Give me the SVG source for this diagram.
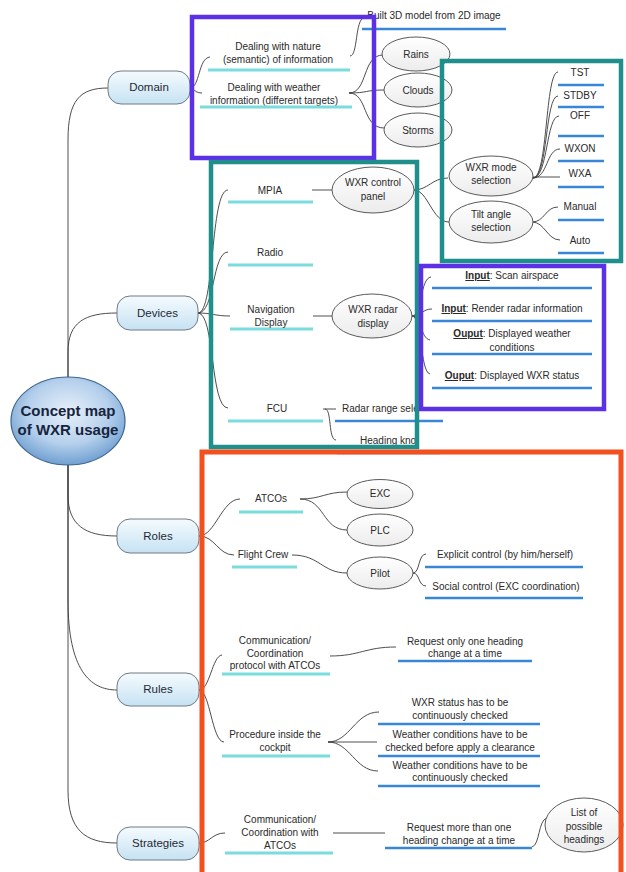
<svg xmlns="http://www.w3.org/2000/svg" width="626" height="872" viewBox="0 0 626 872">
<style>
.t{font-family:"Liberation Sans",Arial,sans-serif;font-size:10px;fill:#2a2a2a;text-anchor:middle}
.tl{font-family:"Liberation Sans",Arial,sans-serif;font-size:10px;fill:#2a2a2a;text-anchor:start}
.mt{font-family:"Liberation Sans",Arial,sans-serif;font-size:11.5px;fill:#1f2933;text-anchor:middle}
.ct{font-family:"Liberation Sans",Arial,sans-serif;font-size:15px;font-weight:bold;fill:#17243d;text-anchor:middle}
.b{font-weight:bold;text-decoration:underline}
.uc{stroke:#7adcdc;stroke-width:3;fill:none}
.ub{stroke:#3a86d6;stroke-width:2.5;fill:none}
.conn{fill:none;stroke:#3a3a3a;stroke-width:0.9}
.ell{fill:url(#eg);stroke:#5a5a5a;stroke-width:1}
.mn{fill:url(#mg);stroke:#6e7a84;stroke-width:1}
.bp{fill:none;stroke:#5b30e6;stroke-width:4.5}
.bt{fill:none;stroke:#1f8f8c;stroke-width:4.5}
.bo{fill:none;stroke:#f2501f;stroke-width:5}
</style>
<defs>
<linearGradient id="mg" x1="0" y1="0" x2="0" y2="1">
<stop offset="0" stop-color="#f5fbfe"/><stop offset="1" stop-color="#c6e2f3"/>
</linearGradient>
<linearGradient id="eg" x1="0" y1="0" x2="0" y2="1">
<stop offset="0" stop-color="#ffffff"/><stop offset="1" stop-color="#ececec"/>
</linearGradient>
<radialGradient id="cg" cx="0.5" cy="0.4" r="0.6">
<stop offset="0" stop-color="#e8f1fa"/><stop offset="0.6" stop-color="#b5d0ec"/><stop offset="1" stop-color="#6f9fd1"/>
</radialGradient>
</defs>
<rect width="626" height="872" fill="#ffffff"/>

<g id="connectors">
<path class="conn" d="M68,377 L68,140 C68,100 80,88 108,88"/>
<path class="conn" d="M68,377 L68,352 C68,322 85,313 117,313"/>
<path class="conn" d="M68,465 L68,495 C68,525 85,536 117,536"/>
<path class="conn" d="M68,465 L68,600 C68,670 90,690 117,690"/>
<path class="conn" d="M68,465 L68,790 C68,830 85,843 117,843"/>
<path class="conn" d="M190,88 C200,88 198,58 210,57"/>
<path class="conn" d="M190,88 C195,90 196,93 202,93"/>
<path class="conn" d="M350,56 C358,56 355,19 364,18"/>
<path class="conn" d="M349,93 C368,93 362,55 383,55"/>
<path class="conn" d="M349,93 C368,93 365,90 384,90"/>
<path class="conn" d="M349,93 C368,93 362,128 384,128"/>
<path class="conn" d="M198,313 C215,313 210,190 228,190"/>
<path class="conn" d="M198,313 C215,313 212,252 228,252"/>
<path class="conn" d="M198,313 C212,313 215,316 230,316"/>
<path class="conn" d="M198,313 C215,313 210,408 228,408"/>
<path class="conn" d="M312,190 L332,190"/>
<path class="conn" d="M414,190 C428,190 432,178 448,178"/>
<path class="conn" d="M414,190 C428,190 432,222 449,222"/>
<path class="conn" d="M533,178 C548,178 545,72 558,72"/>
<path class="conn" d="M533,178 C548,178 545,96 558,96"/>
<path class="conn" d="M533,178 C548,178 546,116 559,116"/>
<path class="conn" d="M533,178 C548,178 546,149 560,149"/>
<path class="conn" d="M533,177 L560,177"/>
<path class="conn" d="M532,222 C545,222 545,207 558,207"/>
<path class="conn" d="M532,222 C545,222 547,240 560,240"/>
<path class="conn" d="M313,316 L332,316"/>
<path class="conn" d="M412,316 C422,316 420,278 431,277"/>
<path class="conn" d="M412,316 C422,316 422,309 432,309"/>
<path class="conn" d="M412,316 C422,316 420,338 430,340"/>
<path class="conn" d="M412,316 C422,316 420,372 430,374"/>
<path class="conn" d="M323,409 L336,409"/>
<path class="conn" d="M325,409 C332,409 328,440 336,440"/>
<path class="conn" d="M199,536 C215,536 222,499 240,499"/>
<path class="conn" d="M199,536 C215,536 218,555 234,555"/>
<path class="conn" d="M300,499 C322,499 325,492 347,492"/>
<path class="conn" d="M300,499 C325,499 322,530 347,530"/>
<path class="conn" d="M292,555 C320,555 322,573 347,573"/>
<path class="conn" d="M413,573 C420,573 418,554 426,554"/>
<path class="conn" d="M413,573 C420,573 418,586 426,586"/>
<path class="conn" d="M199,690 C210,690 212,656 222,655"/>
<path class="conn" d="M199,690 C210,690 212,742 224,742"/>
<path class="conn" d="M330,656 C360,656 365,647 396,647"/>
<path class="conn" d="M328,742 C350,742 355,712 379,712"/>
<path class="conn" d="M328,742 L377,742"/>
<path class="conn" d="M328,742 C350,742 355,771 378,771"/>
<path class="conn" d="M199,843 C210,843 212,833 225,833"/>
<path class="conn" d="M333,833 L385,833"/>
<path class="conn" d="M532,847 C540,845 538,820 547,818"/>
</g>

<g id="center">
<ellipse cx="68" cy="421" rx="57" ry="44" fill="url(#cg)" stroke="#3f6590" stroke-width="1.2"/>
<text class="ct" x="68" y="416">Concept map</text>
<text class="ct" x="68" y="435">of WXR usage</text>
</g>

<g id="domain"><rect class="mn" x="108" y="71" width="82" height="33" rx="13"/><text class="mt" x="149" y="91">Domain</text></g>
<g id="devices"><rect class="mn" x="117" y="296" width="81" height="34" rx="13"/><text class="mt" x="157.5" y="317">Devices</text></g>
<g id="roles"><rect class="mn" x="117" y="519" width="82" height="34" rx="13"/><text class="mt" x="158" y="540">Roles</text></g>
<g id="rules"><rect class="mn" x="117" y="673" width="82" height="33" rx="13"/><text class="mt" x="158" y="693">Rules</text></g>
<g id="strategies"><rect class="mn" x="117" y="827" width="82" height="33" rx="13"/><text class="mt" x="158" y="847">Strategies</text></g>

<g id="nature"><text class="t" x="278" y="50">Dealing with nature</text><text class="t" x="278" y="63">(semantic) of information</text><line class="uc" x1="208" y1="70" x2="350" y2="70"/></g>
<g id="weather"><text class="t" x="274" y="91">Dealing with weather</text><text class="t" x="274" y="104">information (different targets)</text><line class="uc" x1="200" y1="107" x2="352" y2="107"/></g>
<g id="built3d"><text class="t" x="434" y="19">Built 3D model from 2D image</text><line class="ub" x1="362" y1="29" x2="506" y2="29"/></g>
<g id="rains"><ellipse class="ell" cx="416" cy="54" rx="34" ry="17"/><text class="t" x="416" y="58">Rains</text></g>
<g id="clouds"><ellipse class="ell" cx="418" cy="90" rx="34" ry="17"/><text class="t" x="418" y="94">Clouds</text></g>
<g id="storms"><ellipse class="ell" cx="418" cy="130" rx="34" ry="17"/><text class="t" x="418" y="134">Storms</text></g>

<g id="mpia"><text class="t" x="270" y="194">MPIA</text><line class="uc" x1="228" y1="202" x2="313" y2="202"/></g>
<g id="wxrpanel"><ellipse class="ell" cx="373" cy="190" rx="41" ry="23"/><text class="t" x="373" y="186">WXR control</text><text class="t" x="373" y="200">panel</text></g>
<g id="wxrmode"><ellipse class="ell" cx="491" cy="176" rx="42" ry="20"/><text class="t" x="491" y="171">WXR mode</text><text class="t" x="491" y="184">selection</text></g>
<g id="tilt"><ellipse class="ell" cx="491" cy="222" rx="42" ry="21"/><text class="t" x="491" y="218">Tilt angle</text><text class="t" x="491" y="231">selection</text></g>
<g id="tst"><text class="t" x="580" y="76">TST</text><line class="ub" x1="558" y1="85" x2="604" y2="85"/></g>
<g id="stdby"><text class="t" x="580" y="99">STDBY</text><line class="ub" x1="558" y1="107" x2="604" y2="107"/></g>
<g id="off"><text class="t" x="580" y="119">OFF</text><line class="ub" x1="558" y1="136" x2="604" y2="136"/></g>
<g id="wxon"><text class="t" x="580" y="152">WXON</text><line class="ub" x1="558" y1="161" x2="604" y2="161"/></g>
<g id="wxa"><text class="t" x="580" y="177">WXA</text><line class="ub" x1="558" y1="187" x2="604" y2="187"/></g>
<g id="manual"><text class="t" x="580" y="210">Manual</text><line class="ub" x1="558" y1="220" x2="604" y2="220"/></g>
<g id="auto"><text class="t" x="580" y="244">Auto</text><line class="ub" x1="558" y1="253" x2="604" y2="253"/></g>

<g id="radio"><text class="t" x="270" y="256">Radio</text><line class="uc" x1="228" y1="265" x2="313" y2="265"/></g>
<g id="navdisplay"><text class="t" x="271" y="313">Navigation</text><line class="uc" x1="230" y1="329" x2="313" y2="329"/><text class="t" x="271" y="326">Display</text></g>
<g id="wxrradar"><ellipse class="ell" cx="372" cy="316" rx="40" ry="22"/><text class="t" x="373" y="313">WXR radar</text><text class="t" x="373" y="327">display</text></g>
<g id="in1"><text class="t" x="512" y="279"><tspan class="b">Input</tspan>: Scan airspace</text><line class="ub" x1="432" y1="288" x2="592" y2="288"/></g>
<g id="in2"><text class="t" x="512" y="312"><tspan class="b">Input</tspan>: Render radar information</text><line class="ub" x1="432" y1="321" x2="592" y2="321"/></g>
<g id="out1"><text class="t" x="512" y="337"><tspan class="b">Ouput</tspan>: Displayed weather</text><text class="t" x="512" y="351">conditions</text><line class="ub" x1="432" y1="354" x2="592" y2="354"/></g>
<g id="out2"><text class="t" x="512" y="379"><tspan class="b">Ouput</tspan>: Displayed WXR status</text><line class="ub" x1="432" y1="388" x2="592" y2="388"/></g>
<g id="fcu"><text class="t" x="277" y="412">FCU</text><line class="uc" x1="228" y1="421" x2="323" y2="421"/></g>
<g id="radarrange"><text class="tl" x="342" y="412">Radar range sele</text><line class="ub" x1="335" y1="421" x2="443" y2="421"/></g>
<g id="headingknob"><text class="tl" x="360" y="444">Heading kno</text><line class="ub" x1="337" y1="453" x2="440" y2="453"/></g>

<g id="atcos"><text class="t" x="271" y="502">ATCOs</text><line class="uc" x1="239" y1="512" x2="303" y2="512"/></g>
<g id="flightcrew"><text class="t" x="263" y="558">Flight Crew</text><line class="uc" x1="232" y1="567" x2="297" y2="567"/></g>
<g id="exc"><ellipse class="ell" cx="380" cy="494" rx="33" ry="14.5"/><text class="t" x="380" y="497">EXC</text></g>
<g id="plc"><ellipse class="ell" cx="380" cy="530" rx="33" ry="16"/><text class="t" x="380" y="534">PLC</text></g>
<g id="pilot"><ellipse class="ell" cx="380" cy="573" rx="33" ry="16"/><text class="t" x="380" y="577">Pilot</text></g>
<g id="explicit"><text class="t" x="505" y="558">Explicit control (by him/herself)</text><line class="ub" x1="425" y1="567" x2="583" y2="567"/></g>
<g id="social"><text class="t" x="506" y="590">Social control (EXC coordination)</text><line class="ub" x1="425" y1="598" x2="583" y2="598"/></g>

<g id="commprotocol"><text class="t" x="275" y="644">Communication/</text><text class="t" x="275" y="657">Coordination</text><text class="t" x="275" y="669">protocol with ATCOs</text><line class="uc" x1="222" y1="674" x2="330" y2="674"/></g>
<g id="requestone"><text class="t" x="465" y="645">Request only one heading</text><text class="t" x="465" y="657">change at a time</text><line class="ub" x1="398" y1="661" x2="532" y2="661"/></g>
<g id="procedure"><text class="t" x="275" y="738">Procedure inside the</text><text class="t" x="275" y="751">cockpit</text><line class="uc" x1="222" y1="756" x2="330" y2="756"/></g>
<g id="wxrstatus"><text class="t" x="460" y="706">WXR status has to be</text><text class="t" x="460" y="719">continuously checked</text><line class="ub" x1="378" y1="724" x2="540" y2="724"/></g>
<g id="weather1"><text class="t" x="460" y="738">Weather conditions have to be</text><text class="t" x="460" y="751">checked before apply a clearance</text><line class="ub" x1="378" y1="756" x2="540" y2="756"/></g>
<g id="weather2"><text class="t" x="460" y="769">Weather conditions have to be</text><text class="t" x="460" y="781">continuously checked</text><line class="ub" x1="378" y1="786" x2="540" y2="786"/></g>
<g id="commstrat"><text class="t" x="280" y="823">Communication/</text><text class="t" x="280" y="836">Coordination with</text><text class="t" x="280" y="849">ATCOs</text><line class="uc" x1="225" y1="853" x2="333" y2="853"/></g>
<g id="requestmore"><text class="t" x="459" y="831">Request more than one</text><text class="t" x="459" y="844">heading change at a time</text><line class="ub" x1="385" y1="848" x2="532" y2="848"/></g>
<g id="listheadings"><ellipse class="ell" cx="584" cy="825" rx="39" ry="27"/><text class="t" x="584" y="816">List of</text><text class="t" x="584" y="830">possible</text><text class="t" x="584" y="843">headings</text></g>

<g id="frames">
<rect class="bp" x="192" y="17" width="182" height="141"/>
<rect class="bt" x="442" y="61" width="179" height="200"/>
<rect class="bt" x="211" y="162" width="206" height="285"/>
<rect class="bp" x="421" y="266" width="183" height="143"/>
<rect class="bo" x="202" y="452" width="419" height="425"/>
</g>
</svg>
